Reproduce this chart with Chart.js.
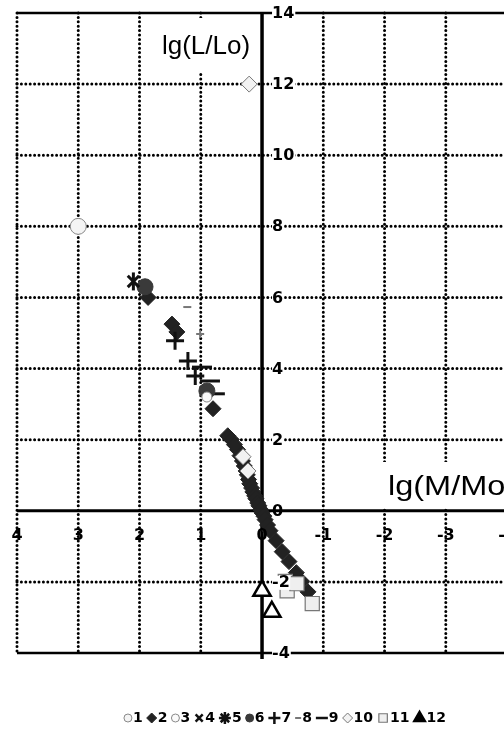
<!DOCTYPE html>
<html>
<head>
<meta charset="utf-8">
<script src="https://cdn.jsdelivr.net/npm/chart.js@4.4.1/dist/chart.umd.min.js"></script>
<style>
  html, body { margin: 0; padding: 0; background: #fff; overflow: hidden; }
  #wrap { width: 504px; height: 733px; position: relative; }
</style>
</head>
<body>
<div id="wrap"><canvas id="grafico" width="504" height="733"></canvas></div>
<script>
// =============================
// DADOS
// =============================
const xTicks = [4, 3, 2, 1, 0, -1, -2, -3, -4];
const yTicks = [14, 12, 10, 8, 6, 4, 2, 0, -2, -4];
const xTitle = "lg(M/Mo)";
const yTitle = "lg(L/Lo)";
const seriesNames = ["1", "2", "3", "4", "5", "6", "7", "8", "9", "10", "11", "12"];

const s1x = [3];
const s1y = [8];
const s2x = [1.86, 1.47, 1.39, 0.80, 0.56, 0.50, 0.45, 0.40, 0.36, 0.32, 0.29, 0.26, 0.24, 0.22, 0.20, 0.17, 0.15, 0.12, 0.10, 0.07, 0.05, 0.02, 0.0, -0.03, -0.05, -0.09, -0.13, -0.23, -0.33, -0.44, -0.56, -0.65, -0.75];
const s2y = [6.0, 5.25, 5.03, 2.87, 2.11, 2.0, 1.86, 1.72, 1.55, 1.40, 1.26, 1.12, 1.01, 0.88, 0.76, 0.64, 0.53, 0.42, 0.34, 0.22, 0.14, 0.03, -0.06, -0.15, -0.25, -0.40, -0.56, -0.84, -1.15, -1.43, -1.74, -1.99, -2.28];
const s3x = [0.9];
const s3y = [3.2];
const s4x = [2.1];
const s4y = [6.45];
const s5x = [2.1];
const s5y = [6.45];
const s6x = [1.91, 0.9];
const s6y = [6.3, 3.37];
const s7x = [1.42, 1.21, 1.09, 1.01];
const s7y = [4.78, 4.21, 3.79, 4.97];
const s8x = [1.22];
const s8y = [5.73];
const s9x = [0.98, 0.85, 0.77];
const s9y = [4.04, 3.65, 3.29];
const s10x = [0.21, 0.31, 0.23];
const s10y = [12, 1.52, 1.12];
const s11x = [-0.38, -0.41, -0.57, -0.82];
const s11y = [-1.99, -2.25, -2.05, -2.61];
const s12x = [0, -0.16];
const s12y = [-2.25, -2.84];

function pts(xs, ys) {
  return xs.map((x, i) => ({ x: x, y: ys[i] }));
}

// =============================
// SERIES
// =============================
const datasets = [
  { label: seriesNames[0], data: pts(s1x, s1y), pointStyle: "circle", pointRadius: 8, pointBackgroundColor: "#f4f4f4", pointBorderColor: "#888", pointBorderWidth: 1, leg: { r: 4 } },
  { label: seriesNames[1], data: pts(s2x, s2y), pointStyle: "rectRot", pointRadius: 8, pointBackgroundColor: "#222", pointBorderColor: "#222", pointBorderWidth: 1, order: 9, leg: { r: 5 } },
  { label: seriesNames[2], data: pts(s3x, s3y), pointStyle: "circle", pointRadius: 5, pointBackgroundColor: "#fafafa", pointBorderColor: "#888", pointBorderWidth: 1, leg: { r: 4 } },
  { label: seriesNames[3], data: pts(s4x, s4y), pointStyle: "crossRot", pointRadius: 8, pointBorderColor: "#111", pointBorderWidth: 3, leg: { r: 5 } },
  { label: seriesNames[4], data: pts(s5x, s5y), pointStyle: "line", pointRotation: 90, pointRadius: 9, pointBorderColor: "#111", pointBorderWidth: 3, leg: { r: 6, style: "star" } },
  { label: seriesNames[5], data: pts(s6x, s6y), pointStyle: "circle", pointRadius: 8, pointBackgroundColor: "#3a3a3a", pointBorderColor: "#3a3a3a", pointBorderWidth: 1, leg: { r: 4 } },
  { label: seriesNames[6], data: pts(s7x, s7y), pointStyle: "cross", pointRadius: [9, 9, 9, 4], pointBorderColor: ["#111", "#111", "#111", "#777"], pointBorderWidth: [3, 3, 3, 2], leg: { r: 6 } },
  { label: seriesNames[7], data: pts(s8x, s8y), pointStyle: "line", pointRadius: 4, pointBorderColor: "#777", pointBorderWidth: 2, leg: { r: 3 } },
  { label: seriesNames[8], data: pts(s9x, s9y), pointStyle: "line", pointRadius: 10, pointBorderColor: "#111", pointBorderWidth: 3, leg: { r: 6 } },
  { label: seriesNames[9], data: pts(s10x, s10y), pointStyle: "rectRot", pointRadius: 8, pointBackgroundColor: "#f2f2f2", pointBorderColor: "#777", pointBorderWidth: 1, leg: { r: 5 } },
  { label: seriesNames[10], data: pts(s11x, s11y), pointStyle: "rect", pointRadius: 10, pointBackgroundColor: "#efefef", pointBorderColor: "#777", pointBorderWidth: 1.2, leg: { r: 6 } },
  { label: seriesNames[11], data: pts(s12x, s12y), pointStyle: "triangle", pointRadius: 10, pointBackgroundColor: "#fff", pointBorderColor: "#000", pointBorderWidth: 2.5, leg: { r: 6, fill: "#000" } }
];

// =============================
// EIXOS, GRADE, LEGENDA
// =============================
const tickFont = 'bold 16px "DejaVu Sans", sans-serif';
const titleFont = '26px "Liberation Sans", Arial, sans-serif';
const legendFont = 'bold 14px "DejaVu Sans", sans-serif';

function linha(ctx, x1, y1, x2, y2) {
  ctx.beginPath();
  ctx.moveTo(x1, y1);
  ctx.lineTo(x2, y2);
  ctx.stroke();
}

const fundo = {
  id: "fundo",
  beforeDatasetsDraw(chart) {
    const { ctx, chartArea: a, scales: { x, y } } = chart;
    const x0 = x.getPixelForValue(0);
    const y0 = y.getPixelForValue(0);
    ctx.save();

    // grade pontilhada
    ctx.strokeStyle = "#000";
    ctx.lineWidth = 3;
    ctx.lineCap = "round";
    ctx.setLineDash([0, 4.4]);
    xTicks.forEach(v => {
      if (v === 0) return;
      const px = x.getPixelForValue(v);
      linha(ctx, px, a.top, px, a.bottom);
    });
    yTicks.forEach(v => {
      if (v === 0 || v === yTicks[0] || v === yTicks[yTicks.length - 1]) return;
      const py = y.getPixelForValue(v);
      linha(ctx, a.left, py, a.right, py);
    });

    // linhas contínuas
    ctx.setLineDash([]);
    ctx.lineCap = "butt";
    ctx.lineWidth = 2.5;
    linha(ctx, a.left, a.top, a.right, a.top);
    linha(ctx, a.left, a.bottom, a.right, a.bottom);
    ctx.lineWidth = 3;
    linha(ctx, a.left, y0, a.right, y0);

    // títulos dos eixos
    ctx.fillStyle = "#fff";
    ctx.fillRect(150, 18, 106, 55);
    ctx.fillRect(383, 462, 130, 46);
    ctx.fillStyle = "#000";
    ctx.font = titleFont;
    ctx.textBaseline = "middle";
    ctx.textAlign = "center";
    ctx.fillText(yTitle, 206, 47);

    // eixo Y contínuo por cima da caixa do título
    ctx.strokeStyle = "#000";
    ctx.lineWidth = 3.5;
    linha(ctx, x0, a.top, x0, a.bottom + 6);

    ctx.translate(388, 487);
    ctx.scale(1.25, 1.05);
    ctx.textAlign = "left";
    ctx.fillText(xTitle, 0, 0);
    ctx.restore();
  },
  afterDatasetsDraw(chart) {
    const { ctx, scales: { x, y } } = chart;
    const x0 = x.getPixelForValue(0);
    const y0 = y.getPixelForValue(0);
    ctx.save();
    ctx.font = tickFont;
    ctx.textBaseline = "middle";

    // rótulos Y (à direita do eixo)
    ctx.textAlign = "left";
    yTicks.forEach(v => {
      const py = y.getPixelForValue(v) + 1;
      const t = String(v);
      const w = ctx.measureText(t).width;
      if (v !== 0) {
        ctx.fillStyle = "#fff";
        ctx.fillRect(x0 + 10, py - 7, w + 1, 14);
      }
      ctx.fillStyle = "#000";
      ctx.fillText(t, x0 + 10, py);
    });

    // rótulos X (abaixo do eixo)
    ctx.textAlign = "center";
    xTicks.forEach(v => {
      ctx.fillText(String(v), x.getPixelForValue(v), y0 + 25);
    });

    // legenda
    ctx.font = legendFont;
    const gap = 1, sep = 4;
    let total = 0;
    datasets.forEach(d => {
      total += d.leg.r * 2 + gap + ctx.measureText(d.label).width + sep;
    });
    let cx = 287 - total / 2;
    const ly = 718;
    datasets.forEach(d => {
      const r = d.leg.r;
      const bc = Array.isArray(d.pointBorderColor) ? d.pointBorderColor[0] : d.pointBorderColor;
      ctx.fillStyle = d.leg.fill || d.pointBackgroundColor || "#000";
      ctx.strokeStyle = bc;
      ctx.lineWidth = Math.min(2.5, Array.isArray(d.pointBorderWidth) ? d.pointBorderWidth[0] : d.pointBorderWidth);
      Chart.helpers.drawPoint(ctx, {
        pointStyle: d.leg.style || d.pointStyle,
        radius: r,
        rotation: d.leg.style ? 0 : (d.pointRotation || 0),
        borderWidth: 1
      }, cx + r, ly);
      cx += r * 2 + gap;
      ctx.fillStyle = "#000";
      ctx.textAlign = "left";
      ctx.fillText(d.label, cx, ly);
      cx += ctx.measureText(d.label).width + sep;
    });
    ctx.restore();
  }
};

// =============================
// GRÁFICO
// =============================
// o eixo X vai de 4 a -4, mas a imagem corta a borda direita logo antes de -4
const grafico = new Chart(document.getElementById("grafico"), {
  type: "scatter",
  data: { datasets: datasets },
  options: {
    responsive: false,
    animation: false,
    devicePixelRatio: 1,
    layout: { autoPadding: false, padding: { left: 17, right: 0, top: 13, bottom: 80 } },
    plugins: { legend: { display: false }, tooltip: { enabled: false } },
    scales: {
      x: { type: "linear", min: -3.95, max: 4, reverse: true, display: false },
      y: { type: "linear", min: -4, max: 14, display: false }
    }
  },
  plugins: [fundo]
});
</script>
</body>
</html>
